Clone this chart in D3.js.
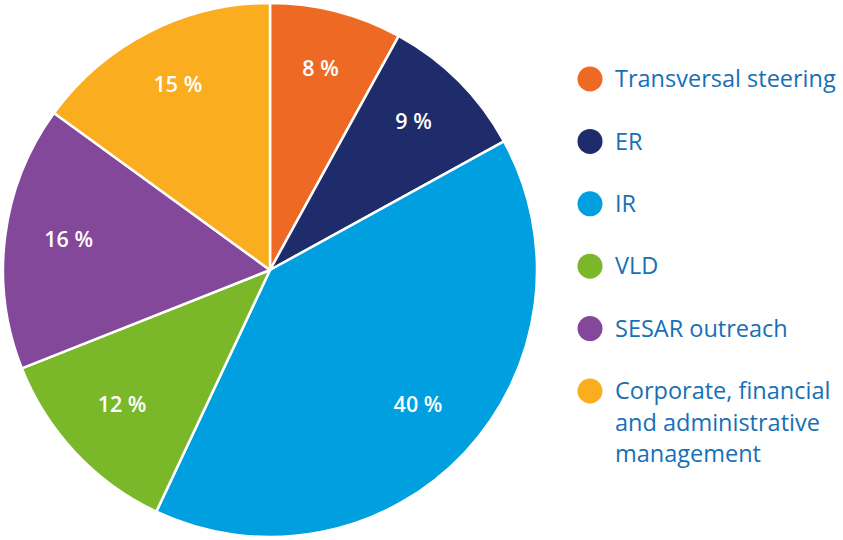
<!DOCTYPE html>
<html><head><meta charset="utf-8">
<script src="https://cdn.jsdelivr.net/npm/d3@7"></script>
<style>body{margin:0;background:#fff}</style>
</head><body>
<svg id="c" width="843" height="540"></svg>
<script>
const categories = ["Transversal steering","ER","IR","VLD","SESAR outreach","Corporate, financial and administrative management"];
const legendLines = [["Transversal steering"],["ER"],["IR"],["VLD"],["SESAR outreach"],["Corporate, financial","and administrative","management"]];
const values = [8,9,40,12,16,15];
const colors = ["#EE6A24","#1E2C6B","#009FDF","#7AB829","#84489A","#F9AD1F"];

const svg = d3.select("#c");
const cx = 270, cy = 270, R = 267;
const g = svg.append("g").attr("transform",`translate(${cx},${cy})`);
const pie = d3.pie().sort(null).value(d=>d)(values);
const arc = d3.arc().innerRadius(0).outerRadius(R);
const labelArc = d3.arc().innerRadius(203).outerRadius(203);
g.selectAll("path").data(pie).join("path")
  .attr("d",arc).attr("fill",(d,i)=>colors[i])
  .attr("stroke","#fff").attr("stroke-width",2.5).attr("stroke-linejoin","round");
g.selectAll("text").data(pie).join("text")
  .attr("transform",d=>`translate(${labelArc.centroid(d)})`)
  .attr("text-anchor","middle").attr("dy","0.12em")
  .attr("fill","#fff").attr("font-family","Open Sans, sans-serif")
  .attr("font-weight",600).attr("font-size",21.5)
  .text(d=>d.data+" %");

const ly = d3.scaleLinear().domain([0,5]).range([79,391]);
const lg = svg.append("g");
legendLines.forEach((lines,i)=>{
  lg.append("circle").attr("cx",590).attr("cy",ly(i)).attr("r",12.5).attr("fill",colors[i]);
  const t = lg.append("text").attr("x",615).attr("y",ly(i))
    .attr("fill","#1670B6").attr("font-family","Open Sans, sans-serif").attr("font-size",23.5);
  lines.forEach((l,j)=>t.append("tspan").attr("x",615).attr("dy",j===0?"0.35em":31.5).text(l));
});
</script>
</body></html>
